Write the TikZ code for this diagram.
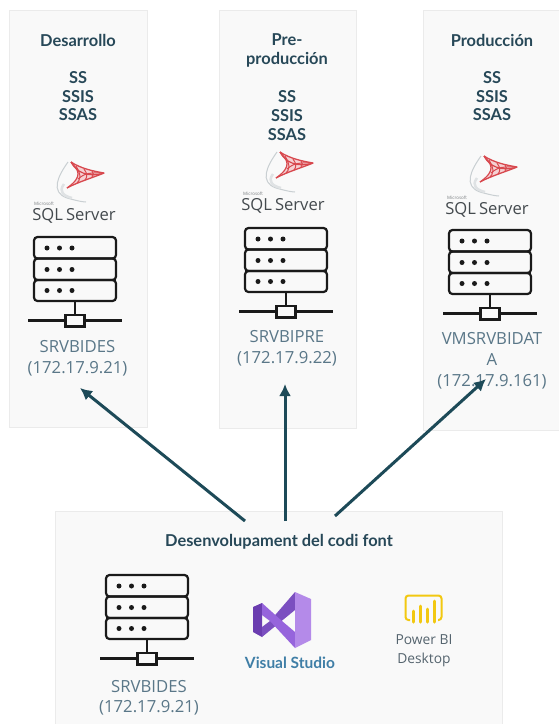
\documentclass[tikz,border=0pt]{standalone}
\usepackage{fontspec}
\setmainfont{Open Sans}
\newfontfamily\headfont{Lato}
\newfontfamily\sqlfont{Open Sans}
\definecolor{panelfill}{HTML}{F9F9F9}
\definecolor{panelline}{HTML}{EBEBEB}
\definecolor{headcol}{HTML}{274858}
\definecolor{labelcol}{HTML}{5A7788}
\definecolor{pbcol}{HTML}{55646E}
\definecolor{arrowcol}{HTML}{1D4A58}
\definecolor{iconcol}{HTML}{1A1A1A}
\definecolor{sqlred}{HTML}{D8484E}
\definecolor{sqlgrey}{HTML}{C9CFD2}
\definecolor{sqltext}{HTML}{444A4E}
\definecolor{biyellow}{HTML}{F2C811}
\definecolor{vsa}{HTML}{B48AE9}
\definecolor{vsb}{HTML}{7B4FC0}
\definecolor{vsc}{HTML}{9664DC}
\definecolor{vsd}{HTML}{6B3DB0}
\definecolor{vstext}{HTML}{3F7EA6}
\usetikzlibrary{arrows.meta}
\tikzset{
  panel/.style={draw=panelline,fill=panelfill,line width=1pt},
  headtxt/.style={font=\headfont\bfseries\fontsize{16.4}{16.4}\selectfont,text=headcol,inner sep=0pt,anchor=center},
  labeltxt/.style={font=\fontsize{16.7}{16.7}\selectfont,text=labelcol,inner sep=0pt,anchor=center},
  flow/.style={draw=arrowcol,line width=3pt,-{Latex[length=12pt,width=12pt]}},
  serverico/.pic={
    \begin{scope}[draw=iconcol,line width=2.2pt]
      \draw[rounded corners=3.5pt] (-41,0) rectangle (41,21.5);
      \draw[rounded corners=3.5pt] (-41,21.5) rectangle (41,43);
      \draw[rounded corners=3.5pt] (-41,43) rectangle (41,64);
      \draw (0,64) -- (0,83);
      \draw (-47,83.5) -- (47,83.5);
      \draw[fill=panelfill] (-9.5,78) rectangle (9.5,89.5);
      \foreach \yy in {11,32.5,53.5}{\foreach \xx in {-28,-15.5,-3}{
        \fill[iconcol] (\xx,\yy) circle (2.5);}}
    \end{scope}
  },
  sqlico/.pic={
    \draw[sqlgrey,line width=1pt] (-6,-58) .. controls (-16,-44) and (-24,-28) .. (-7,-22) .. controls (0,-20) and (8,-18) .. (12,-18);
    \draw[sqlgrey!60,line width=2.5pt] (-10,-36) .. controls (-16,-28) and (-10,-24) .. (-2,-22);
    \fill[sqlred!25] (-3,-58) .. controls (6,-52) and (18,-49) .. (30,-47) .. controls (18,-42) and (4,-38) .. (-7,-32) .. controls (10,-44) and (4,-50) .. (-3,-58);
    \draw[sqlred,line width=1.3pt,line join=round] (-3,-58) .. controls (6,-52) and (18,-49) .. (30,-47) .. controls (18,-42) and (4,-38) .. (-7,-32);
    \draw[sqlred,line width=1.2pt] (-3,-58) .. controls (4,-50) and (10,-44) .. (-7,-32);
    \draw[sqlred,line width=1.2pt] (-3,-58) .. controls (2,-48) and (14,-42) .. (30,-47);
    \draw[sqlred,line width=1pt] (2,-54) .. controls (8,-44) and (6,-40) .. (3,-37);
    \draw[sqlred,line width=1pt] (10,-51) .. controls (14,-46) and (13,-42) .. (11,-40);
    \draw[sqlred,line width=1pt] (18,-49) .. controls (20,-46) and (19,-44) .. (18,-43);
    \draw[sqlred,line width=1pt] (4,-41) .. controls (12,-48) and (18,-47) .. (26,-47);
    \node[inner sep=0pt,text=sqltext,anchor=base,font=\sqlfont\fontsize{16.6}{16.6}\selectfont] (-sqlname) at (0,0) {SQL\hspace{3pt}Server};
    \node[inner sep=0pt,text=sqltext!70,anchor=base west,font=\sqlfont\fontsize{4.5}{4.5}\selectfont] (-sqlms) at (-40,-15) {Microsoft};
  },
}
\begin{document}
\begin{tikzpicture}[x=1pt,y=-1pt]
\useasboundingbox (0,0) rectangle (558,724);
% panels
\path[panel] (9.5,10) rectangle (147.5,427.5);
\path[panel] (219.5,10) rectangle (356.5,428);
\path[panel] (423.5,10) rectangle (570,430);
\path[panel] (55.5,511) rectangle (502,740);
% Desarrollo
\node[headtxt] (h1) at (78,40) {Desarrollo};
\node[headtxt] (a1) at (78,77.5) {SS};
\node[headtxt] (a2) at (78,96.5) {SSIS};
\node[headtxt] (a3) at (78,115) {SSAS};
\pic (sql1) at (74,220) {sqlico};
\pic (srv1) at (75,237) {serverico};
\node[labeltxt] (n1) at (77.5,347) {SRVBIDES};
\node[labeltxt] (i1) at (77.5,368.5) {(172.17.9.21)};
% Pre-produccion
\node[headtxt] (h2a) at (287,39.5) {Pre-};
\node[headtxt] (h2b) at (287,59.5) {producción};
\node[headtxt] (b1) at (287,96.5) {SS};
\node[headtxt] (b2) at (287,115.5) {SSIS};
\node[headtxt] (b3) at (287,134.5) {SSAS};
\pic (sql2) at (283,210) {sqlico};
\pic (srv2) at (286,228) {serverico};
\node[labeltxt] (n2) at (287,337) {SRVBIPRE};
\node[labeltxt] (i2) at (287,359) {(172.17.9.22)};
% Produccion
\node[headtxt] (h3) at (492,40) {Producción};
\node[headtxt] (c1) at (492,77.5) {SS};
\node[headtxt] (c2) at (492,96.5) {SSIS};
\node[headtxt] (c3) at (492,115) {SSAS};
\pic (sql3) at (487,214) {sqlico};
\pic (srv3) at (490,230) {serverico};
\node[labeltxt] (n3) at (492,339) {VMSRVBIDAT};
\node[labeltxt] (n3b) at (492,360) {A};
\node[labeltxt] (i3) at (492,381.5) {(172.17.9.161)};
% bottom
\node[headtxt] (h4) at (279,541.5) {Desenvolupament del codi font};
\pic (srv4) at (147,575) {serverico};
\node[labeltxt] (n4) at (149,687) {SRVBIDES};
\node[labeltxt] (i4) at (149,708) {(172.17.9.21)};
% Visual Studio logo
\fill[vsd] (253,607) -- (262,603) -- (262,637) -- (253,632) -- cycle;
\fill[vsb] (295,592) -- (295,610) -- (262,637) -- (262,627) -- (270,621) -- cycle;
\fill[vsc] (262,603) -- (282,621) -- (295,632) -- (295,648) -- (270,621) -- (262,615) -- cycle;
\fill[vsa] (295,592) -- (311,599) -- (311,640) -- (295,648) -- cycle;
\node[inner sep=0pt,text=vstext,anchor=center,font=\headfont\bfseries\fontsize{15.5}{15.5}\selectfont] (vs) at (290,663) {Visual Studio};
% Power BI logo
\draw[biyellow,line width=2pt,rounded corners=3pt] (410,620) -- (405.5,620) -- (405.5,595.5) -- (441.5,595.5) -- (441.5,620) -- (438,620);
\foreach \bx/\bt in {413.5/611,420.5/606,427.5/609,434.5/601}{
  \draw[biyellow,line width=3pt,line cap=round] (\bx,622) -- (\bx,\bt);}
\node[labeltxt,text=pbcol,font=\fontsize{13.8}{13.8}\selectfont] (pb1) at (424,640) {Power BI};
\node[labeltxt,text=pbcol,font=\fontsize{13.8}{13.8}\selectfont] (pb2) at (424,660) {Desktop};
% arrows
\coordinate (s1) at (245,521);
\coordinate (s2) at (285,521);
\coordinate (s3) at (335,516);
\coordinate (t1) at (80,388);
\coordinate (t2) at (285,384);
\coordinate (t3) at (486,379);
\draw[flow] (s1) -- (t1);
\draw[flow] (s2) -- (t2);
\draw[flow] (s3) -- (t3);
\end{tikzpicture}
\end{document}
